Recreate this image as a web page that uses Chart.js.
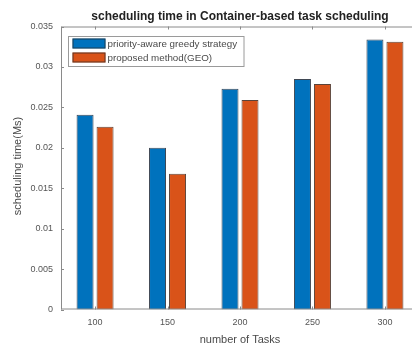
<!DOCTYPE html>
<html>
<head>
<meta charset="utf-8">
<script src="https://cdn.jsdelivr.net/npm/chart.js@4.4.1/dist/chart.umd.min.js"></script>
<style>
  html, body { margin: 0; padding: 0; background: #fff; overflow: hidden; }
  #wrap { width: 420px; height: 347px; }
</style>
</head>
<body>
<div id="wrap"><canvas id="c" width="420" height="347"></canvas></div>
<script>
// Number of tasks (x positions of the bar groups)
const taskCounts = [100, 150, 200, 250, 300];
// Scheduling time for each strategy
const greedyTimes = [0.0241, 0.0200, 0.0273, 0.0285, 0.0334];
const geoTimes = [0.0226, 0.0168, 0.0259, 0.0279, 0.0331];
const seriesNames = ['priority-aware greedy strategy', 'proposed method(GEO)'];
const yTickLabels = ['0', '0.005', '0.01', '0.015', '0.02', '0.025', '0.03', '0.035'];

const FONT = '"Liberation Sans", Arial, Helvetica, sans-serif';
const AXIS = '#8a8a8a';

// Box, inward tick marks, titles and the in-plot legend
const framePlugin = {
  id: 'frame',
  afterDatasetsDraw(chart) {
    const { ctx, chartArea: a, scales: { x, y } } = chart;
    ctx.save();
    ctx.strokeStyle = AXIS;
    ctx.lineWidth = 1;
    ctx.beginPath();
    ctx.moveTo(a.left + 0.5, a.top + 0.5);
    ctx.lineTo(a.right, a.top + 0.5);
    ctx.moveTo(a.left + 0.5, a.top);
    ctx.lineTo(a.left + 0.5, a.bottom);
    ctx.moveTo(a.left, a.bottom - 0.5);
    ctx.lineTo(a.right, a.bottom - 0.5);
    ctx.moveTo(a.right - 0.5, a.top);
    ctx.lineTo(a.right - 0.5, a.bottom);
    // x ticks on bottom and top edges
    x.ticks.forEach(t => {
      const px = Math.round(x.getPixelForValue(t.value)) + 0.5;
      ctx.moveTo(px, a.bottom);
      ctx.lineTo(px, a.bottom - 3);
      ctx.moveTo(px, a.top);
      ctx.lineTo(px, a.top + 3);
    });
    // y ticks on the left edge
    y.ticks.forEach(t => {
      const py = Math.round(y.getPixelForValue(t.value)) + 0.5;
      ctx.moveTo(a.left, py);
      ctx.lineTo(a.left + 3, py);
    });
    ctx.stroke();
    ctx.restore();
  },
  afterDraw(chart) {
    const { ctx, chartArea: a } = chart;
    const cx = (a.left + a.right) / 2;
    ctx.save();
    ctx.textAlign = 'center';
    ctx.textBaseline = 'middle';
    // chart title, centred over the axes box
    ctx.fillStyle = '#222';
    ctx.font = 'bold 12px ' + FONT;
    ctx.fillText('scheduling time in Container-based task scheduling', cx, 16.5);
    // axis titles
    ctx.fillStyle = '#4a4a4a';
    ctx.font = '11px ' + FONT;
    ctx.fillText('number of Tasks', cx, 339.5);
    ctx.translate(18, (a.top + a.bottom) / 2 - 2);
    ctx.rotate(-Math.PI / 2);
    ctx.fillText('scheduling time(Ms)', 0, 0);
    ctx.restore();

    // legend
    ctx.save();
    const lx = a.left + 7.5, ly = a.top + 10, lw = 175.5, lh = 30;
    ctx.fillStyle = '#fff';
    ctx.fillRect(lx, ly, lw, lh);
    ctx.strokeStyle = '#9a9a9a';
    ctx.lineWidth = 1;
    ctx.strokeRect(lx, ly, lw, lh);
    ctx.font = '9.8px ' + FONT;
    ctx.textAlign = 'left';
    ctx.textBaseline = 'middle';
    chart.data.datasets.forEach((ds, i) => {
      const sy = ly + 2 + i * 14;
      ctx.fillStyle = ds.backgroundColor;
      ctx.fillRect(lx + 4, sy, 33, 10);
      ctx.strokeStyle = 'rgba(40,40,40,0.7)';
      ctx.strokeRect(lx + 4.5, sy + 0.5, 32, 9);
      ctx.fillStyle = '#4a4a4a';
      ctx.fillText(ds.label, lx + 39, sy + 5.5);
    });
    ctx.restore();
  }
};

new Chart(document.getElementById('c'), {
  type: 'bar',
  data: {
    datasets: [
      {
        label: seriesNames[0],
        data: taskCounts.map((t, i) => ({ x: t, y: greedyTimes[i] })),
        backgroundColor: '#0072BD',
        borderColor: 'rgba(15,25,40,0.8)',
        borderWidth: 1
      },
      {
        label: seriesNames[1],
        data: taskCounts.map((t, i) => ({ x: t, y: geoTimes[i] })),
        backgroundColor: '#D95319',
        borderColor: 'rgba(50,20,8,0.8)',
        borderWidth: 1
      }
    ]
  },
  options: {
    responsive: false,
    devicePixelRatio: 1,
    animation: false,
    categoryPercentage: 0.552,
    barPercentage: 0.85,
    layout: { padding: { left: 0, right: 1, top: 26.5, bottom: 0 } },
    plugins: {
      legend: { display: false },
      tooltip: { enabled: false },
      title: { display: false }
    },
    scales: {
      x: {
        type: 'linear',
        offset: false,
        min: 76.5,
        max: 323.5,
        grid: { display: false },
        border: { display: false },
        afterBuildTicks(scale) {
          scale.ticks = taskCounts.map(v => ({ value: v }));
        },
        afterFit(scale) { scale.height = 37.5; },
        ticks: {
          color: '#555',
          font: { family: FONT, size: 9 },
          padding: 0,
          maxRotation: 0,
          callback: (v) => String(v)
        }
      },
      y: {
        min: 0,
        max: 0.035,
        grid: { display: false },
        border: { display: false },
        afterFit(scale) { scale.width = 61; },
        ticks: {
          stepSize: 0.005,
          color: '#555',
          font: { family: FONT, size: 9 },
          padding: 0,
          callback: (v, i) => yTickLabels[i]
        }
      }
    }
  },
  plugins: [framePlugin]
});
</script>
</body>
</html>
